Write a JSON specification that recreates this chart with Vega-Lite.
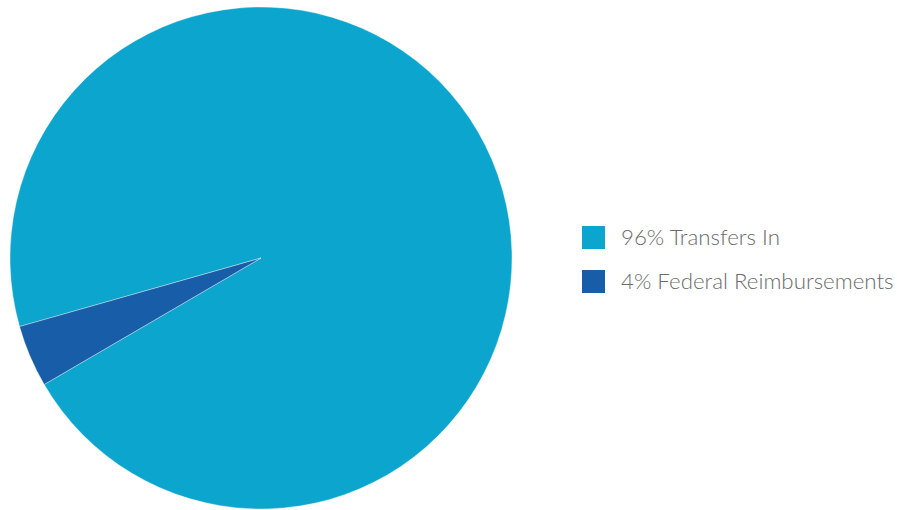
{
  "$schema": "https://vega.github.io/schema/vega-lite/v6.json",
  "padding": 0,
  "width": 522,
  "height": 516,
  "background": "white",
  "data": {"values": [
    {"category": "96% Transfers In", "share": 96},
    {"category": "4% Federal Reimbursements", "share": 4}
  ]},
  "mark": {"type": "arc", "outerRadius": 251, "stroke": "#ffffff", "strokeWidth": 0.6, "strokeOpacity": 0.6},
  "encoding": {
    "theta": {"field": "share", "type": "quantitative", "stack": true, "scale": {"range": [4.1843, 10.4675]}},
    "order": {"field": "share", "type": "quantitative", "sort": "ascending"},
    "color": {
      "field": "category", "type": "nominal",
      "scale": {"domain": ["96% Transfers In", "4% Federal Reimbursements"], "range": ["#0ca5ce", "#175da8"]},
      "legend": {
        "title": null, "orient": "none", "legendX": 582, "legendY": 226,
        "padding": 0, "symbolType": "square", "symbolSize": 529, "symbolStrokeWidth": 0,
        "symbolOpacity": 1, "labelFont": "Lato", "labelFontSize": 22.3, "labelFontWeight": 300,
        "labelColor": "#6b6b6b", "labelOffset": 16, "rowPadding": 21, "labelLimit": 400
      }
    }
  },
  "config": {"view": {"stroke": null}}
}
